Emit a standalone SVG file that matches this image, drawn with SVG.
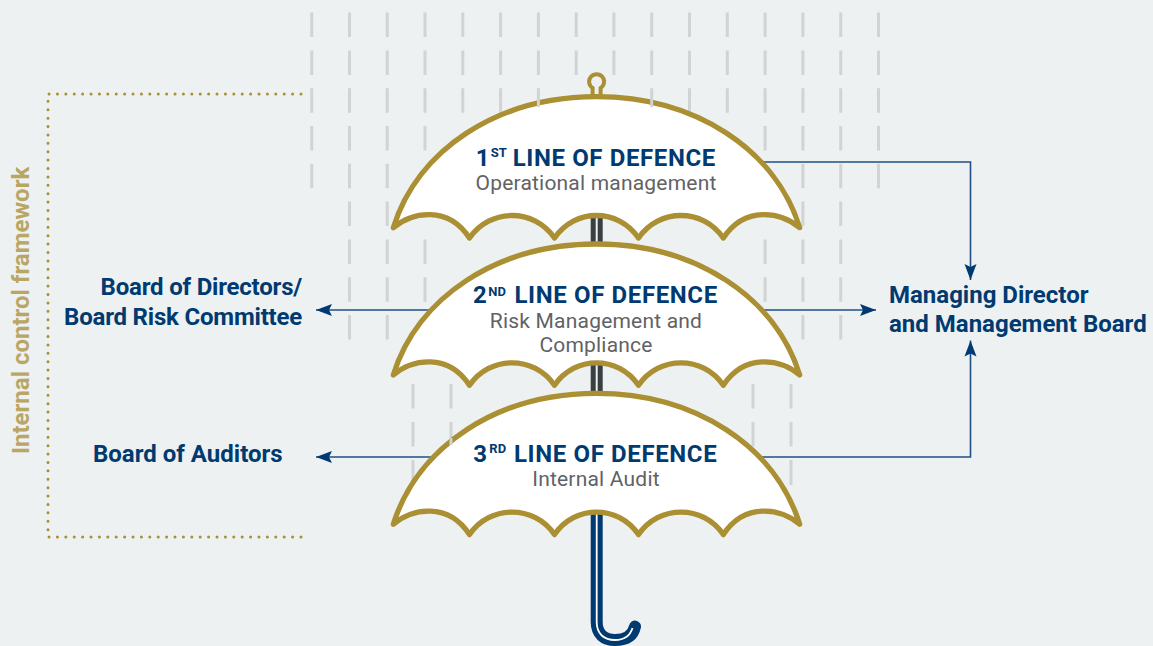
<svg xmlns="http://www.w3.org/2000/svg" width="1153" height="646" viewBox="0 0 1153 646">
<style>
text{font-family:Roboto,"Liberation Sans",sans-serif}
.h{font-size:24px;font-weight:700;fill:#003a70;letter-spacing:.62px}
.s{font-size:13px;font-weight:700;fill:#003a70}
.g{font-size:21px;fill:#616265;text-anchor:middle;letter-spacing:.2px}
.b{font-size:24px;font-weight:700;fill:#003a70}
.e{text-anchor:end;letter-spacing:-.2px}
.rain{fill:none;stroke:#d1d3d4;stroke-width:3}
.can{fill:#fff;stroke:#ab8f33;stroke-width:5.3;stroke-linejoin:round}
.con{fill:none;stroke:#1f4f85;stroke-width:1.6;marker-end:url(#ah)}
.dot{fill:none;stroke:#ab8f33;stroke-width:3;stroke-linecap:round;stroke-dasharray:0 8.398}
</style>
<defs>
<marker id="ah" markerUnits="userSpaceOnUse" markerWidth="16" markerHeight="14" refX="16" refY="7" orient="auto"><path d="M0,1L16,7L0,13L3,7Z" fill="#003a70"/></marker>
<path id="canopy" d="M393.3,227.7C417.5,150 497,96.7 596.5,96.7C696,96.7 775.5,150 799.7,227.7C781,212 745,205 723.3,238C703,208 659,208 638.5,238C618,208 575,208 554.5,238C534,208 490,208 469.5,238C448,205 412,212 393.3,227.7Z"/>
</defs>
<rect width="1153" height="646" fill="#edf1f2"/>
<g id="rain">
<path class="rain" d="M311.7,12.5v24.5M349.5,12.5v24.5M387.2,12.5v24.5M425,12.5v24.5M462.8,12.5v24.5M500.6,12.5v24.5M538.4,12.5v24.5M576.2,12.5v24.5M613.9,12.5v24.5M651.7,12.5v24.5M689.5,12.5v24.5M727.3,12.5v24.5M765.1,12.5v24.5M802.9,12.5v24.5M840.7,12.5v24.5M878.5,12.5v24.5
M311.7,50.4v24.5M349.5,50.4v24.5M387.2,50.4v24.5M425,50.4v24.5M462.8,50.4v24.5M500.6,50.4v24.5M538.4,50.4v24.5M576.2,50.4v24.5M613.9,50.4v24.5M651.7,50.4v24.5M689.5,50.4v24.5M727.3,50.4v24.5M765.1,50.4v24.5M802.9,50.4v24.5M840.7,50.4v24.5M878.5,50.4v24.5
M311.7,88.2v24.5M349.5,88.2v24.5M387.2,88.2v24.5M425,88.2v24.5M462.8,88.2v24.5M500.6,88.2v24.5M538.4,88.2v24.5M651.7,88.2v24.5M689.5,88.2v24.5M727.3,88.2v24.5M765.1,88.2v24.5M802.9,88.2v24.5M840.7,88.2v24.5M878.5,88.2v24.5
M311.7,126v24.5M349.5,126v24.5M387.2,126v24.5M425,126v24.5M765.1,126v24.5M802.9,126v24.5M840.7,126v24.5M878.5,126v24.5
M311.7,163.8v24.5M349.5,163.8v24.5M387.2,163.8v24.5M802.9,163.8v24.5M840.7,163.8v24.5M878.5,163.8v24.5
M349.5,201.6v24.5M387.2,201.6v24.5M802.9,201.6v24.5M840.7,201.6v24.5
M349.5,239.4v24.5M387.2,239.4v24.5M425,239.4v24.5M765.1,239.4v24.5M802.9,239.4v24.5M840.7,239.4v24.5
M349.5,277.2v24.5M387.2,277.2v24.5M425,277.2v24.5M765.1,277.2v24.5M802.9,277.2v24.5M840.7,277.2v24.5
M349.5,315v24.5M387.2,315v24.5M802.9,315v24.5M840.7,315v24.5
M413,384v24.5M451,384v24.5M753,384v24.5M791,384v24.5
M413,422v24.5M451,422v24.5M753,422v24.5M791,422v24.5
M413,460v25M791,460v25"/>
</g>
<g id="frame">
<path class="dot" d="M301,94H48V537H301"/>
<text transform="translate(29,454) rotate(-90)" font-size="24" font-weight="700" fill="#b9a664">Internal control framework</text>
</g>
<g id="connectors">
<path class="con" d="M430,310H316"/>
<path class="con" d="M434,457H316"/>
<path class="con" d="M760,162H970.5V280"/>
<path class="con" d="M760,310H876"/>
<path class="con" d="M760,457H970.5V340.5"/>
</g>
<g id="shaft" fill="#3a3f42">
<rect x="590.7" y="212" width="5" height="34"/>
<rect x="597.7" y="212" width="5" height="34"/>
<rect x="590.7" y="360" width="5" height="36"/>
<rect x="597.7" y="360" width="5" height="36"/>
<path d="M596.7,510V622C596.7,634 604,640 615,640C626,640 633,636 635,626.5" fill="none" stroke="#003a70" stroke-width="12" stroke-linecap="round"/>
<path d="M596.7,510V622C596.7,634 604,640 615,640C624,640 630,636 632.5,628" fill="none" stroke="#fff" stroke-width="1.8"/>
</g>
<g id="line1">
<path d="M592.6,97V88A7.5,7.5 0 1 1 600.6,88V97" fill="none" stroke="#ab8f33" stroke-width="4"/>
<use href="#canopy" class="can"/>
<path class="rain" d="M538.4,99v8M651.7,99v8"/>
<text class="h" x="475.7" y="166">1</text><text class="s" x="490.7" y="157.3">ST</text><text class="h" x="512.7" y="166">LINE OF DEFENCE</text>
<text class="g" x="596" y="190">Operational management</text>
</g>
<g id="line2">
<use href="#canopy" class="can" y="147.3"/>
<text class="h" x="473" y="303.3">2</text><text class="s" x="488.3" y="295.7">ND</text><text class="h" x="514.5" y="303.3">LINE OF DEFENCE</text>
<text class="g" x="596" y="327.7">Risk Management and</text>
<text class="g" x="596" y="351.7">Compliance</text>
</g>
<g id="line3">
<use href="#canopy" class="can" y="296.6"/>
<path class="rain" d="M451,438v7"/>
<text class="h" x="473.3" y="461.7">3</text><text class="s" x="489.3" y="453.3">RD</text><text class="h" x="514" y="461.7">LINE OF DEFENCE</text>
<text class="g" x="596" y="485.7">Internal Audit</text>
</g>
<g id="board-directors">
<text class="b e" x="302" y="295">Board of Directors/</text>
<text class="b e" x="302" y="324.6">Board Risk Committee</text>
</g>
<g id="board-auditors"><text class="b" x="93" y="461.8">Board of Auditors</text></g>
<g id="management">
<text class="b" x="889" y="303.3">Managing Director</text>
<text class="b" x="889" y="331.7">and Management Board</text>
</g>
</svg>
